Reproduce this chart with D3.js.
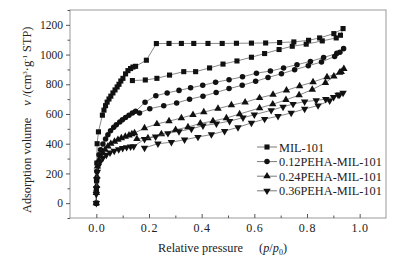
<!DOCTYPE html>
<html>
<head>
<meta charset="utf-8">
<script src="https://cdn.jsdelivr.net/npm/d3@7"></script>
<style>
  body { margin: 0; background: #fff; }
  svg text { font-family: "Liberation Serif", "DejaVu Serif", serif !important; fill: #222; }
  .achse path, .achse line { stroke: #555; }
</style>
</head>
<body>
<svg id="chart"></svg>
<script>
//////////////// Daten ////////////////////
// [p/p0, v] in der Reihenfolge der Messung (Adsorption, obere Kurve, untere Kurve zurueck)
const mil101 = [
  [0, 0], [0, 90], [0.001, 150], [0.002, 270], [0.003, 400], [0.008, 480],
  [0.023, 592], [0.029, 626], [0.035, 656], [0.041, 680], [0.048, 701], [0.055, 720],
  [0.063, 742], [0.071, 762], [0.079, 782], [0.086, 800], [0.093, 822], [0.101, 840],
  [0.111, 870], [0.12, 892], [0.13, 906], [0.139, 916], [0.149, 921],
  [0.19, 962], [0.228, 1074], [0.276, 1075], [0.323, 1075], [0.37, 1075], [0.424, 1075],
  [0.478, 1075], [0.532, 1076], [0.589, 1077], [0.643, 1078], [0.696, 1081], [0.75, 1085],
  [0.806, 1096], [0.848, 1112], [0.902, 1141], [0.937, 1175],
  [0.927, 1130], [0.911, 1112], [0.858, 1092], [0.797, 1070], [0.744, 1056], [0.694, 1034],
  [0.639, 1007], [0.589, 982], [0.534, 957], [0.481, 936], [0.43, 910], [0.377, 885],
  [0.332, 885], [0.278, 862], [0.23, 840], [0.186, 829], [0.137, 825]
];
const peha012 = [
  [0, 0], [0, 80], [0.001, 150], [0.002, 213], [0.004, 270], [0.01, 326], [0.016, 359],
  [0.025, 398], [0.035, 432], [0.044, 460], [0.054, 487], [0.066, 510], [0.076, 528],
  [0.089, 546], [0.099, 562], [0.111, 577], [0.124, 591], [0.137, 607], [0.149, 618],
  [0.185, 679], [0.226, 723], [0.269, 742], [0.314, 759], [0.358, 776], [0.404, 793],
  [0.453, 814], [0.504, 831], [0.555, 850], [0.608, 875], [0.661, 889], [0.711, 910],
  [0.762, 932], [0.813, 954], [0.863, 980], [0.913, 1008], [0.939, 1040],
  [0.925, 1015], [0.905, 987], [0.855, 950], [0.805, 925], [0.753, 898], [0.703, 871],
  [0.652, 846], [0.605, 820], [0.554, 793], [0.504, 771], [0.455, 745], [0.405, 720],
  [0.354, 700], [0.305, 674], [0.256, 656], [0.203, 636], [0.164, 607]
];
const peha024 = [
  [0, 0], [0, 70], [0.001, 117], [0.002, 180], [0.004, 247], [0.01, 290], [0.017, 315],
  [0.025, 337], [0.033, 360], [0.044, 382], [0.055, 400], [0.069, 415], [0.082, 427],
  [0.095, 438], [0.11, 448], [0.124, 456], [0.135, 465], [0.145, 472],
  [0.183, 505], [0.23, 533], [0.276, 552], [0.323, 573], [0.367, 595], [0.408, 613],
  [0.462, 636], [0.513, 660], [0.565, 679], [0.62, 708], [0.671, 731], [0.722, 759],
  [0.772, 788], [0.823, 815], [0.876, 848], [0.924, 879], [0.94, 904],
  [0.93, 884], [0.902, 854], [0.87, 810], [0.82, 765], [0.77, 727], [0.72, 695],
  [0.67, 666], [0.62, 640], [0.544, 600], [0.494, 573], [0.443, 552], [0.395, 537],
  [0.348, 512], [0.301, 494], [0.247, 465], [0.196, 438], [0.154, 432]
];
const peha036 = [
  [0, 0], [0, 60], [0.001, 100], [0.002, 160], [0.004, 210], [0.008, 250], [0.015, 280],
  [0.025, 305], [0.038, 325], [0.052, 340], [0.068, 352], [0.085, 362], [0.1, 370],
  [0.115, 376], [0.13, 380], [0.142, 382],
  [0.183, 431], [0.225, 447], [0.272, 470], [0.314, 483], [0.361, 500], [0.405, 521],
  [0.456, 535], [0.506, 552], [0.557, 575], [0.6, 595], [0.664, 625], [0.709, 648],
  [0.747, 667], [0.791, 683], [0.835, 692], [0.871, 700], [0.901, 713], [0.924, 730],
  [0.937, 742],
  [0.918, 728], [0.886, 690], [0.842, 657], [0.791, 634], [0.74, 607], [0.69, 585],
  [0.639, 566], [0.589, 540], [0.538, 510], [0.487, 485], [0.437, 462], [0.386, 445],
  [0.335, 427], [0.285, 410], [0.234, 400], [0.183, 372]
];
const serienNamen = ["MIL-101", "0.12PEHA-MIL-101", "0.24PEHA-MIL-101", "0.36PEHA-MIL-101"];
const xTicks = [0, 0.2, 0.4, 0.6, 0.8, 1.0];
const yTicks = [0, 200, 400, 600, 800, 1000, 1200];

//////////////// Konstanten ////////////////////
const W = 406, H = 260;
const margin = {top: 10, right: 20, bottom: 42, left: 70},
  width = W - margin.left - margin.right,
  height = H - margin.top - margin.bottom;
const schrift = "'Liberation Serif', 'DejaVu Serif', serif";

const serien = [mil101, peha012, peha024, peha036];
const symbole = [
  d3.symbol().type(d3.symbolSquare).size(26),
  d3.symbol().type(d3.symbolCircle).size(24),
  d3.symbol().type(d3.symbolTriangle).size(24),
  d3.symbol().type(d3.symbolTriangle).size(24)
];
const drehung = [0, 0, 0, 180];

////////////////// SVG ////////////
const svg = d3.select("#chart").attr("width", W).attr("height", H)
  .attr("font-family", schrift);
const g = svg.append("g").attr("transform", "translate(" + margin.left + "," + margin.top + ")");

////////////////// Scaling ////////////
const xScale = d3.scaleLinear().domain([-0.1, 1.1]).range([0, width]);
const yScale = d3.scaleLinear().domain([-100, 1300]).range([height, 0]);

// Rahmen
g.append("rect")
  .attr("width", width).attr("height", height)
  .attr("fill", "none").attr("stroke", "#999").attr("stroke-width", 1);

// x-Achse (Striche nach innen)
g.append("g").attr("class", "achse")
  .attr("transform", "translate(0," + height + ")")
  .call(d3.axisBottom(xScale).tickValues(xTicks).tickSize(-4).tickPadding(5)
    .tickFormat(d3.format(".1f")))
  .call(a => a.select(".domain").remove())
  .attr("font-family", schrift)
  .selectAll("text").style("font-size", "12px").style("letter-spacing", "0.8px");
g.append("g").attr("class", "achse")
  .attr("transform", "translate(0," + height + ")")
  .call(d3.axisBottom(xScale).tickValues([0.1, 0.3, 0.5, 0.7, 0.9]).tickSize(-2.5).tickFormat(""))
  .call(a => a.select(".domain").remove());

// y-Achse (Striche nach aussen)
g.append("g").attr("class", "achse")
  .call(d3.axisLeft(yScale).tickValues(yTicks).tickSize(4).tickPadding(3).tickFormat(d3.format("d")))
  .call(a => a.select(".domain").remove())
  .attr("font-family", schrift)
  .selectAll("text").style("font-size", "11.5px");
g.append("g").attr("class", "achse")
  .call(d3.axisLeft(yScale).tickValues([-100, 100, 300, 500, 700, 900, 1100, 1300]).tickSize(2.5).tickFormat(""))
  .call(a => a.select(".domain").remove());

////////////////// Linien und Symbole ////////////
const linie = d3.line().x(d => xScale(d[0])).y(d => yScale(d[1]));

serien.forEach(function(daten, i) {
  g.append("path")
    .datum(daten)
    .attr("d", linie)
    .attr("fill", "none")
    .attr("stroke", "#555")
    .attr("stroke-width", 0.7);
  g.selectAll("path.s" + i)
    .data(daten)
    .enter()
    .append("path")
    .attr("class", "s" + i)
    .attr("d", symbole[i])
    .attr("transform", d => "translate(" + xScale(d[0]) + "," + yScale(d[1]) + ") rotate(" + drehung[i] + ")")
    .attr("fill", "#111");
});

////////////////// Legende ////////////
const legende = svg.append("g").attr("transform", "translate(257,147)");
serienNamen.forEach(function(name, i) {
  const zeile = legende.append("g").attr("transform", "translate(0," + (i * 14.6) + ")");
  zeile.append("line").attr("x1", 0).attr("x2", 20).attr("stroke", "#555").attr("stroke-width", 0.8);
  zeile.append("path").attr("d", symbole[i]).attr("fill", "#111")
    .attr("transform", "translate(10,0) rotate(" + drehung[i] + ")");
  zeile.append("text").attr("x", 22).attr("y", 4.5).style("font-size", "12.3px").text(name);
});

////////////////// Achsentitel ////////////
const xTitel = svg.append("text")
  .attr("x", 158).attr("y", 252).style("font-size", "12.3px");
xTitel.append("tspan").text("Relative pressure");
xTitel.append("tspan").attr("dx", 16).text("(");
xTitel.append("tspan").style("font-style", "italic").text("p");
xTitel.append("tspan").text("/");
xTitel.append("tspan").style("font-style", "italic").text("p");
xTitel.append("tspan").attr("dy", 3).style("font-size", "8px").text("0");
xTitel.append("tspan").attr("dy", -3).text(")");

const yTitel = svg.append("text")
  .attr("transform", "translate(31,213) rotate(-90)").style("font-size", "12.3px");
yTitel.append("tspan").text("Adsorption volume");
yTitel.append("tspan").attr("dx", 12).style("font-style", "italic").text("v");
yTitel.append("tspan").text(" /(cm");
yTitel.append("tspan").attr("dy", -4).style("font-size", "7px").text("3");
yTitel.append("tspan").attr("dy", 4).text("·g");
yTitel.append("tspan").attr("dy", -4).style("font-size", "7px").text("-1");
yTitel.append("tspan").attr("dy", 4).text(" STP)");
</script>
</body>
</html>
